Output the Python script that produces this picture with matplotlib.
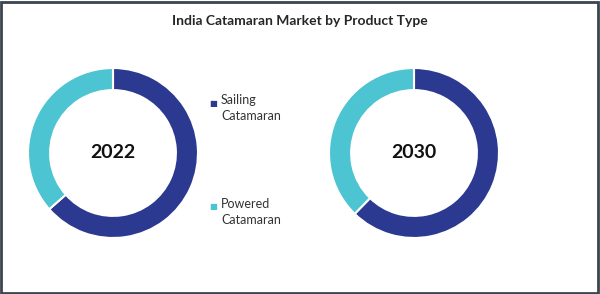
import matplotlib.pyplot as plt
from matplotlib.patches import Rectangle

# data
categories = ["Sailing\nCatamaran", "Powered\nCatamaran"]
years = ["2022", "2030"]
share_2022 = [63.5, 36.5]
share_2030 = [62.3, 37.7]
colors = ["#2b3990", "#4dc4d1"]

W, H = 600, 294
fig = plt.figure(figsize=(6, 2.94), dpi=100)
fig.patch.set_facecolor("white")

fig.text(300 / W, 1 - 21 / H, "India Catamaran Market by Product Type",
         ha="center", va="center", fontsize=10, fontweight="bold",
         family="Lato", color="#262626")


def donut(cx, cy, r, values, label):
    ax = fig.add_axes([(cx - r) / W, 1 - (cy + r) / H, 2 * r / W, 2 * r / H])
    ax.pie(values, colors=colors, startangle=90, counterclock=False,
           radius=1, wedgeprops=dict(width=0.26, edgecolor="white", linewidth=1.5))
    ax.set_xlim(-1, 1)
    ax.set_ylim(-1, 1)
    ax.text(0, 0, label, ha="center", va="center", fontsize=14,
            fontweight="bold", family="Lato", color="#111111")
    return ax


donut(113, 153, 85, share_2022, years[0])
donut(414, 153, 85, share_2030, years[1])

# legend
leg_y = [103, 206]
for cat, col, y in zip(categories, colors, leg_y):
    fig.text(213 / W, 1 - y / H, "\u25a0", color=col, fontsize=6,
             ha="center", va="center", family="DejaVu Sans")
    fig.text(221 / W, 1 - (y - 8.5) / H, cat, fontsize=9, family="Lato",
             color="#333333", ha="left", va="top", linespacing=1.4)

fig.patches.append(Rectangle((0.5 / W, 1.5 / H), 1 - 2.5 / W, 1 - 3 / H,
                             transform=fig.transFigure, fill=False,
                             edgecolor="#3b4550", linewidth=2))

fig.savefig("out.png", dpi=100)
